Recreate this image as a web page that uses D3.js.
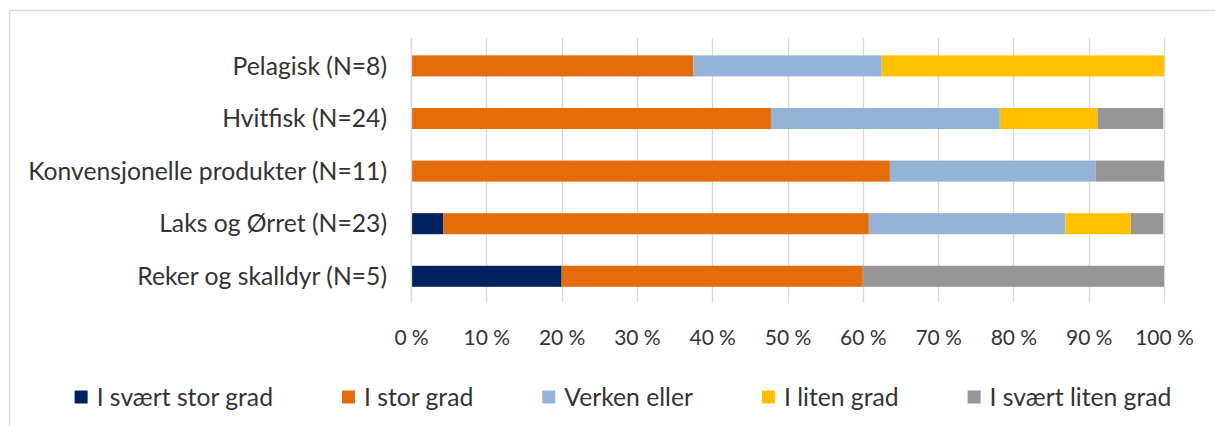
<!DOCTYPE html>
<html>
<head>
<meta charset="utf-8">
<script src="https://cdn.jsdelivr.net/npm/d3@7"></script>
<style>
  html, body { margin: 0; padding: 0; background: #fff; }
  svg { display: block; font-family: Lato, "Open Sans", sans-serif; }
</style>
</head>
<body>
<svg id="chart" width="1215" height="426"></svg>
<script>
// ---- data ----
const categories = [
  "Pelagisk (N=8)",
  "Hvitfisk (N=24)",
  "Konvensjonelle produkter (N=11)",
  "Laks og Ørret (N=23)",
  "Reker og skalldyr (N=5)"
];
const seriesNames = ["I svært stor grad", "I stor grad", "Verken eller", "I liten grad", "I svært liten grad"];
const seriesColors = ["#002060", "#E46C0A", "#95B3D7", "#FFC000", "#969696"];
// percentages per category, in series order
const sværtStorGrad  = [0,    0,    0,    4.3,  20];
const storGrad       = [37.5, 47.8, 63.6, 56.5, 40];
const verkenEller    = [25,   30.4, 27.3, 26.1, 0];
const litenGrad      = [37.5, 13.0, 0,    8.7,  0];
const sværtLitenGrad = [0,    8.7,  9.1,  4.3,  40];
const tickValues = [0, 10, 20, 30, 40, 50, 60, 70, 80, 90, 100];

const seriesValues = [sværtStorGrad, storGrad, verkenEller, litenGrad, sværtLitenGrad];
const rows = categories.map((c, i) => {
  const r = { cat: c };
  seriesNames.forEach((s, j) => r[s] = seriesValues[j][i]);
  return r;
});
const stacked = d3.stack().keys(seriesNames)(rows);

const svg = d3.select("#chart");
const textColor = "#333333";
const gridColor = "#d9d9d9";

// frame
svg.append("rect").attr("x", 9.5).attr("y", 10.5).attr("width", 1300).attr("height", 500)
  .attr("fill", "none").attr("stroke", "#d9d9d9").attr("stroke-width", 1.5);

const x = d3.scaleLinear().domain([0, 100]).range([411, 1164]);
const y = d3.scaleBand().domain(categories).range([39.6, 302.6]).paddingInner(0.6).paddingOuter(0.3);

// gridlines
svg.append("g").selectAll("line").data(tickValues).join("line")
  .attr("x1", d => Math.round(x(d)) + 0.5).attr("x2", d => Math.round(x(d)) + 0.5)
  .attr("y1", 38).attr("y2", 302.6)
  .attr("stroke", gridColor).attr("stroke-width", 1.3);

// bars
svg.append("g").selectAll("g").data(stacked).join("g")
  .attr("fill", (d, i) => seriesColors[i])
  .selectAll("rect").data(d => d).join("rect")
  .attr("x", d => x(d[0]))
  .attr("width", d => Math.max(0, x(d[1]) - x(d[0])))
  .attr("y", d => y(d.data.cat))
  .attr("height", y.bandwidth());

// x axis labels
const xAxis = d3.axisBottom(x).tickValues(tickValues).tickSize(0).tickPadding(0)
  .tickFormat(d => d + "\u202F%");
const gx = svg.append("g").attr("transform", "translate(0,330)").call(xAxis);
gx.select(".domain").remove();
gx.selectAll("text").attr("fill", textColor).style("font-size", "21px")
  .style("font-family", "Lato, sans-serif");

// y axis labels
const yAxis = d3.axisLeft(y).tickSize(0).tickPadding(0);
const gy = svg.append("g").attr("transform", "translate(387,0)").call(yAxis);
gy.select(".domain").remove();
gy.selectAll("text").attr("fill", textColor).style("font-size", "20px")
  .style("font-family", "Lato, sans-serif").attr("dy", "0.35em");
// fit font size so longest label spans like the reference
let maxW = 0;
gy.selectAll("text").each(function () { maxW = Math.max(maxW, this.getComputedTextLength()); });
const fs = 20 * 359 / maxW;
gy.selectAll("text").style("font-size", fs + "px");

// axis line
svg.append("line").attr("x1", 411.5).attr("x2", 411.5).attr("y1", 38).attr("y2", 302.6)
  .attr("stroke", gridColor).attr("stroke-width", 1.3);

// legend
const legend = svg.append("g");
const items = legend.selectAll("g").data(seriesNames).join("g");
items.append("rect").attr("width", 13).attr("height", 13).attr("y", -6.5)
  .attr("fill", (d, i) => seriesColors[i]);
items.append("text").attr("x", 22).attr("dy", "0.35em").text(d => d)
  .attr("fill", textColor).style("font-size", fs + "px");
let cx = 0;
const positions = [];
items.each(function () {
  const w = d3.select(this).select("text").node().getComputedTextLength();
  positions.push(cx);
  cx += 22 + w + 69;
});
const totalW = cx - 69;
const startX = 623 - totalW / 2;
items.attr("transform", (d, i) => `translate(${startX + positions[i]},397)`);
</script>
</body>
</html>
